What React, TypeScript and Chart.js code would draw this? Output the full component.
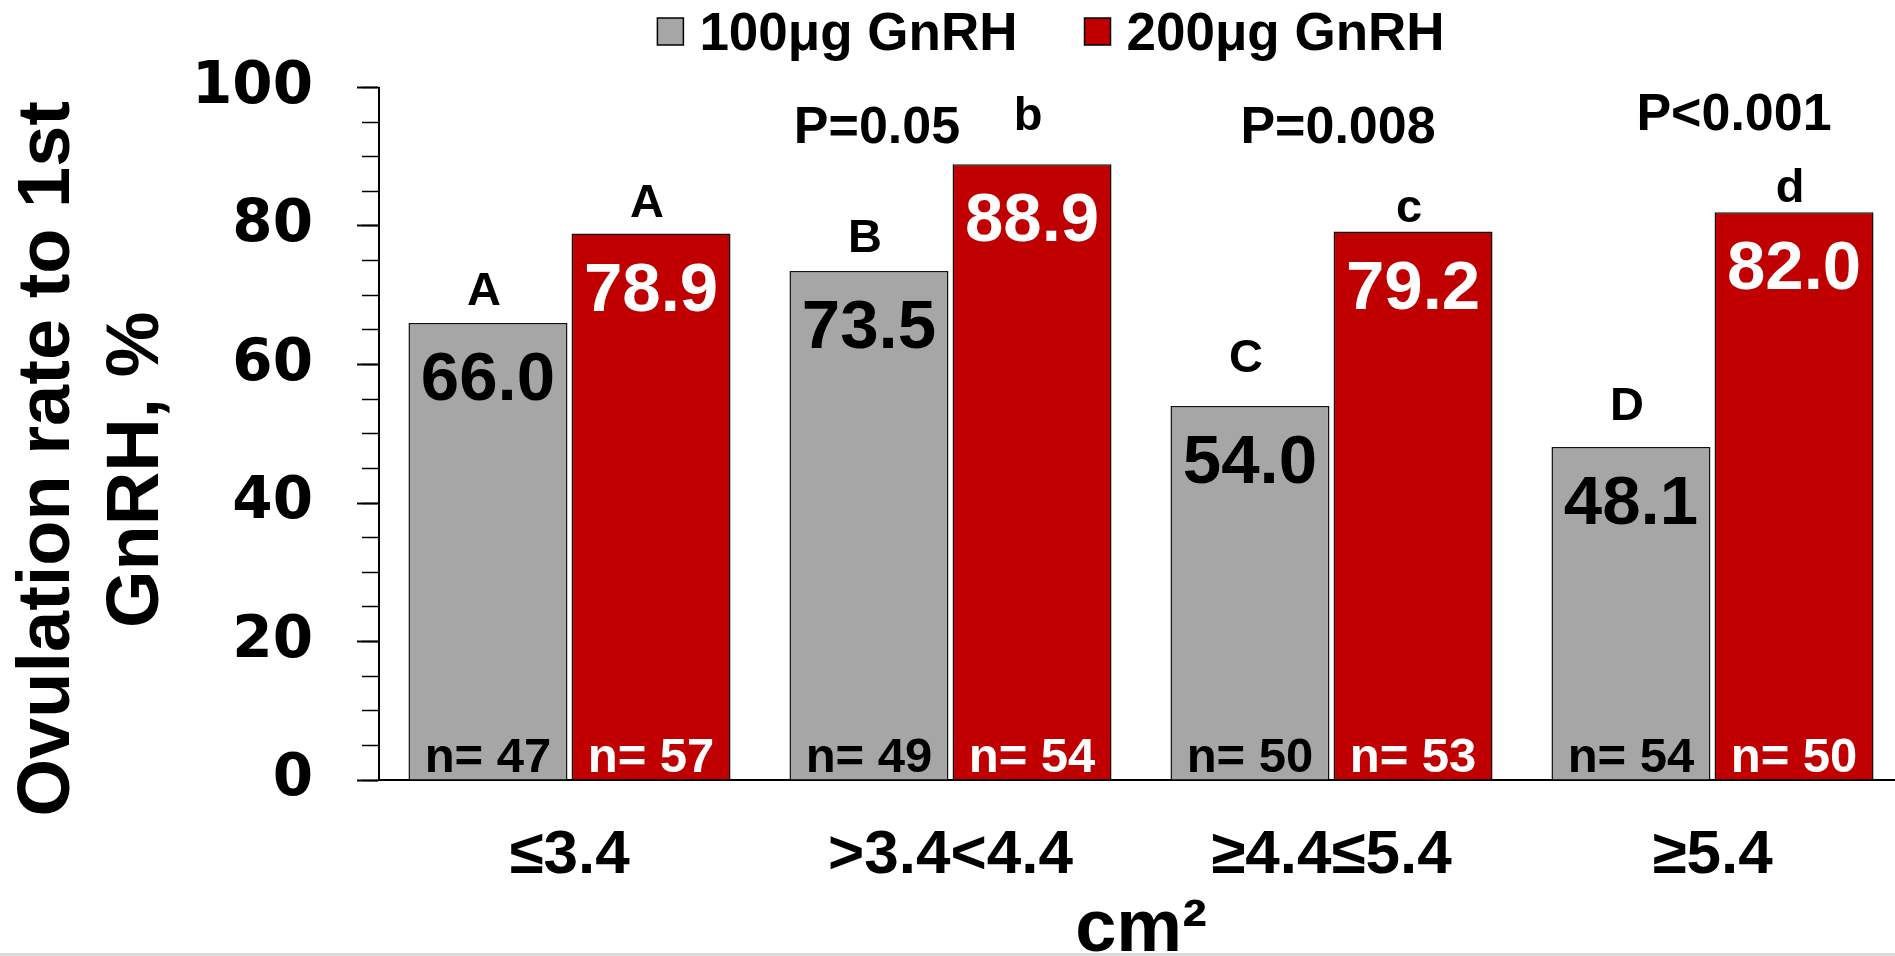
import React, { useEffect, useRef } from "react";
import { Chart, registerables } from "chart.js";

Chart.register(...registerables);

// ---- data ----
const categories = ["≤3.4", ">3.4<4.4", "≥4.4≤5.4", "≥5.4"];
const seriesNames = ["100μg GnRH", "200μg GnRH"];
const rate100 = [66.0, 73.5, 54.0, 48.1];
const rate200 = [78.9, 88.9, 79.2, 82.0];
const n100 = [47, 49, 50, 54];
const n200 = [57, 54, 53, 50];
const letters100 = ["A", "B", "C", "D"];
const letters200 = ["A", "b", "c", "d"];
const pLabels = ["", "P=0.05", "P=0.008", "P<0.001"];
const yTitleLines = ["Ovulation rate to 1st", "GnRH, %"];
const xTitle = "cm²";

const GRAY = "#A6A6A6";
const RED = "#C00000";
const SANS = '"Liberation Sans", Arial, sans-serif';
const HEAVY = '"DejaVu Sans", "Liberation Sans", sans-serif';

const annotate = {
  id: "annotate",
  afterDatasetsDraw(chart: any, _args: any, opts: any) {
    const { ctx, chartArea } = chart;
    const yScale = chart.scales.y;
    const metas = [chart.getDatasetMeta(0), chart.getDatasetMeta(1)];
    const nVals = [n100, n200];
    const letters = [letters100, letters200];
    const lifts = [opts.lift100, opts.lift200];
    ctx.save();
    metas.forEach((meta: any, d: number) => {
      meta.data.forEach((bar: any, i: number) => {
        const val = chart.data.datasets[d].data[i] as number;
        const color = d === 0 ? "#000" : "#fff";
        ctx.textAlign = "center";
        ctx.textBaseline = "alphabetic";
        // value inside bar
        ctx.fillStyle = color;
        ctx.font = `bold 69px ${SANS}`;
        ctx.fillText(val.toFixed(1), bar.x, bar.y + 77);
        // n label
        ctx.font = `bold 49px ${SANS}`;
        ctx.fillText(`n= ${nVals[d][i]}`, bar.x, chartArea.bottom - 8);
        // letter above bar
        ctx.fillStyle = "#000";
        ctx.font = `bold 47px ${SANS}`;
        ctx.fillText(letters[d][i], bar.x - 4, bar.y - lifts[d][i]);
      });
    });
    // P values
    const xScale = chart.scales.x;
    ctx.fillStyle = "#000";
    ctx.font = `bold 52px ${SANS}`;
    ctx.textAlign = "center";
    pLabels.forEach((p, i) => {
      if (!p) return;
      const x = xScale.getPixelForValue(i) + opts.pShift[i];
      const y = yScale.getPixelForValue(opts.pLevel[i]);
      ctx.fillText(p, x, y);
    });
    // y title (two rotated lines)
    ctx.font = `bold 74px ${SANS}`;
    ctx.textBaseline = "middle";
    const mid = (chartArea.top + chartArea.bottom) / 2;
    const lineX = [48.4, 137.4];
    const lineShift = [25, 36];
    yTitleLines.forEach((t, k) => {
      ctx.save();
      ctx.translate(lineX[k], mid + lineShift[k]);
      ctx.rotate(-Math.PI / 2);
      ctx.fillText(t, 0, 0);
      ctx.restore();
    });
    // legend
    ctx.font = `bold 53px ${SANS}`;
    ctx.textAlign = "left";
    ctx.textBaseline = "alphabetic";
    const colors = [GRAY, RED];
    const boxW = 26, boxH = 27, boxGap = 16, itemGap = 67;
    const widths = seriesNames.map((s) => ctx.measureText(s).width);
    const total = widths.reduce((a, w) => a + boxW + boxGap + w, 0) + itemGap;
    let x = (chartArea.left + chartArea.right) / 2 - 90 - total / 2;
    seriesNames.forEach((s, k) => {
      ctx.fillStyle = colors[k];
      ctx.fillRect(x, 18, boxW, boxH);
      ctx.strokeStyle = "#000";
      ctx.lineWidth = 1.5;
      ctx.strokeRect(x, 18, boxW, boxH);
      ctx.fillStyle = "#000";
      ctx.fillText(s, x + boxW + boxGap, 50);
      x += boxW + boxGap + widths[k] + itemGap;
    });
    ctx.restore();
  },
};

export default function App() {
  const ref = useRef<HTMLCanvasElement>(null);
  useEffect(() => {
    const chart = new Chart(ref.current as HTMLCanvasElement, {
      type: "bar",
      data: {
        labels: categories,
        datasets: [
          {
            label: seriesNames[0],
            data: rate100,
            backgroundColor: GRAY,
            borderColor: "#111",
            borderWidth: 1.5,
            categoryPercentage: 0.856,
            barPercentage: 0.975,
          },
          {
            label: seriesNames[1],
            data: rate200,
            backgroundColor: RED,
            borderColor: "#111",
            borderWidth: 1.5,
            categoryPercentage: 0.856,
            barPercentage: 0.975,
          },
        ],
      },
      options: {
        responsive: false,
        animation: false,
        devicePixelRatio: 1,
        layout: { padding: { top: 87.5, left: 0, right: 0, bottom: 0 } },
        plugins: {
          legend: { display: false },
          tooltip: { enabled: false },
          annotate: {
            lift100: [18, 19, 34, 27],
            lift200: [17, 34, 10, 10],
            pShift: [0, -73.5, 6.5, 21.5],
            pLevel: [0, 92, 92, 93.9],
          },
        } as any,
        scales: {
          x: {
            type: "category",
            offset: true,
            grid: { display: false, drawTicks: false },
            border: { display: true, color: "#000", width: 2 },
            ticks: {
              color: "#000",
              font: { family: SANS, size: 62, weight: "bold", lineHeight: 1 },
              padding: 44.5,
              maxRotation: 0,
              autoSkip: false,
            },
            title: {
              display: true,
              text: xTitle,
              color: "#000",
              font: { family: SANS, size: 74, weight: "bold", lineHeight: 1 },
              padding: { top: 0, bottom: 32 },
            },
            afterFit: (s: any) => {
              s.height = 220;
            },
          },
          y: {
            position: "left",
            weight: 1,
            min: 0,
            max: 100,
            ticks: {
              stepSize: 20,
              color: "#000",
              font: { family: HEAVY, size: 58, weight: "bold" },
              padding: 44,
            },
            grid: {
              drawOnChartArea: false,
              drawTicks: true,
              tickLength: 22,
              tickWidth: 2,
              tickColor: "#000",
            },
            border: { display: true, color: "#000", width: 2 },
            afterFit: (s: any) => {
              s.width = 379;
            },
          },
          yMinor: {
            position: "left",
            weight: 0,
            min: 0,
            max: 100,
            ticks: { stepSize: 5, display: false },
            grid: {
              drawOnChartArea: false,
              drawTicks: true,
              tickLength: 17,
              tickWidth: 1.5,
              tickColor: "#000",
            },
            border: { display: false },
            afterFit: (s: any) => {
              s.width = 0;
            },
          },
        } as any,
      },
      plugins: [annotate],
    });
    return () => chart.destroy();
  }, []);

  return (
    <div
      style={{
        position: "fixed",
        left: 0,
        top: 0,
        width: "1895px",
        height: "956px",
        overflow: "hidden",
        background: "#fff",
      }}
    >
      <canvas
        ref={ref}
        width={1903}
        height={1000}
        style={{ display: "block", width: "1903px", height: "1000px" }}
      />
      <div
        style={{
          position: "absolute",
          left: 0,
          bottom: 0,
          width: "100%",
          height: "3px",
          background: "#d9d9d9",
        }}
      />
    </div>
  );
}
